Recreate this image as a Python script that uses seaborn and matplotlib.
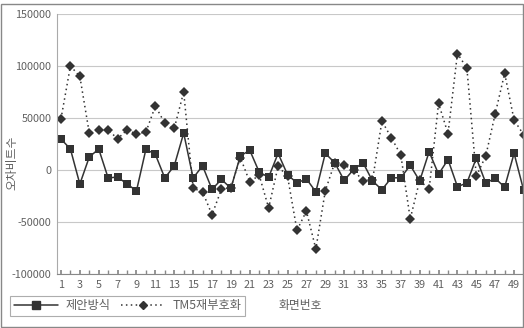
import numpy as np
import pandas as pd
import matplotlib
matplotlib.use("Agg")
import matplotlib.pyplot as plt
import seaborn as sns
from matplotlib.patches import Rectangle
from matplotlib.lines import Line2D

screens = list(range(1, 51))
proposed = [29800, 20200, -13500, 12500, 20200, -7700, -6700, -13500, -20000, 20000,
            15000, -7700, 4000, 35500, -7700, 4000, -18600, -9000, -17600, 13500,
            19000, -2000, -7000, 16000, -4500, -12500, -8500, -21000, 16000, 7000,
            -10000, 500, 7000, -10500, -19000, -7500, -7500, 4500, -10500, 17500,
            -4000, 10000, -16000, -12500, 11500, -12500, -8000, -16500, 16000, -19000]
tm5 = [49000, 100000, 90000, 35500, 38500, 38500, 30000, 38500, 34600, 36500,
       61500, 45000, 40000, 75000, -17600, -21000, -43000, -18500, -17000, 12000,
       -11500, -5000, -36500, 3500, -6000, -58000, -39500, -76000, -20000, 7000,
       4800, 0, -10500, -10000, 47000, 31000, 14500, -47000, -10000, -18500,
       64000, 35000, 112000, 98000, -6000, 13500, 54000, 93000, 48000, 34000]
series_names = ["제안방식", "TM5재부호화"]
yticks = [150000, 100000, 50000, 0, -50000, -100000]
xticklabels = [str(i) for i in range(1, 50, 2)]
xlabel = "화면번호"
ylabel = "오차비트수"

df = pd.DataFrame({
    "x": screens * 2,
    "y": proposed + tm5,
    "series": [series_names[0]] * 50 + [series_names[1]] * 50,
})

sns.set_theme(style="white")
plt.rcParams["font.family"] = ["Noto Sans CJK KR", "DejaVu Sans"]
plt.rcParams["axes.unicode_minus"] = False

text_c = "#606060"
line_c = "#333333"

fig = plt.figure(figsize=(5.24, 3.28), dpi=100)
ax = fig.add_axes([57 / 524, 1 - 274 / 328, 1 - 57 / 524, (274 - 14) / 328])

sns.lineplot(data=df, x="x", y="y", hue="series", style="series",
             palette={series_names[0]: line_c, series_names[1]: line_c},
             dashes={series_names[0]: "", series_names[1]: (1, 2.2)},
             markers={series_names[0]: "s", series_names[1]: "D"},
             markersize=5.5, linewidth=1.1, markeredgewidth=0,
             ax=ax, legend=False)
for ln, ms in zip(ax.lines, [5.8, 4.6]):
    ln.set_markersize(ms)
    ln.set_markerfacecolor(line_c)
    ln.set_markeredgecolor(line_c)

ax.set_xlim(0.58, 50.05)
ax.set_ylim(-100000, 150000)
ax.set_yticks(yticks)
ax.set_yticklabels([str(v) for v in yticks], color=text_c, fontsize=7.8)
ax.set_xticks(list(range(1, 50, 2)))
ax.set_xticklabels(xticklabels, color=text_c, fontsize=7.8)
ax.set_xticks(list(range(1, 51)), minor=True)
ax.tick_params(axis="x", which="both", direction="in", length=3, color="#888888",
               pad=4, bottom=True)
ax.tick_params(axis="y", length=0, pad=4)
ax.grid(axis="y", color="#c8c8c8", linewidth=0.8)
ax.set_axisbelow(True)
for s in ["top", "right"]:
    ax.spines[s].set_visible(False)
ax.spines["left"].set_color("#aaaaaa")
ax.spines["left"].set_linewidth(0.8)
ax.spines["bottom"].set_color("#888888")
ax.spines["bottom"].set_linewidth(0.8)
ax.set_xlabel("")
ax.set_ylabel("")

fig.text(300 / 524, 1 - 305 / 328, xlabel, ha="center", va="center",
         fontsize=8.5, color=text_c)
fig.text(12 / 524, 1 - 163 / 328, ylabel, ha="center", va="center",
         rotation=90, fontsize=8.5, color=text_c)

handles = [
    Line2D([], [], color=line_c, marker="s", markersize=5.5, linewidth=1.1),
    Line2D([], [], color=line_c, marker="D", markersize=4.5, linewidth=1.1,
           linestyle=(0, (1, 2.2))),
]
leg = fig.legend(handles, series_names, loc="center left",
                 bbox_to_anchor=(4 / 524, 1 - 306 / 328), ncol=2, frameon=True,
                 fancybox=False, fontsize=8.8, handlelength=3.6, columnspacing=0.9,
                 handletextpad=0.6, borderpad=0.3, labelcolor=text_c)
leg.get_frame().set_edgecolor("#999999")
leg.get_frame().set_linewidth(0.8)

fig.patches.append(Rectangle((1 / 524, 1 / 328), 522 / 524, 323 / 328,
                             transform=fig.transFigure, fill=False,
                             edgecolor="#888888", linewidth=1.0))

fig.savefig("out.png", dpi=100)
